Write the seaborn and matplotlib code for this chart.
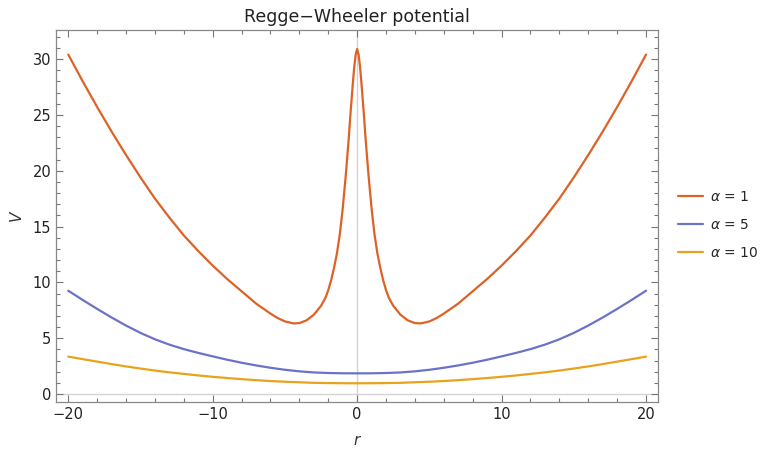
import pandas as pd
import numpy as np
import matplotlib
matplotlib.use("Agg")
import matplotlib.pyplot as plt
from matplotlib.ticker import MultipleLocator
import seaborn as sns

# values
r_a1 = [-20, -19, -18, -17, -16, -15, -14, -13, -12, -11, -10, -9, -8, -7, -6, -5.5, -5, -4.4, -4, -3.5,
        -3, -2.5, -2.2, -2.0, -1.8, -1.6, -1.4, -1.2, -1.0, -0.8, -0.6, -0.45, -0.3, -0.2, -0.1, 0,
        0.1, 0.2, 0.3, 0.45, 0.6, 0.8, 1.0, 1.2, 1.4, 1.6, 1.8, 2.0, 2.2, 2.5,
        3, 3.5, 4, 4.4, 5, 5.5, 6, 7, 8, 9, 10, 11, 12, 13, 14, 15, 16, 17, 18, 19, 20]
v_a1 = [30.4, 28.0, 25.7, 23.5, 21.4, 19.4, 17.5, 15.8, 14.2, 12.8, 11.5, 10.3, 9.2, 8.1, 7.2, 6.8, 6.5, 6.32, 6.35, 6.6,
        7.1, 7.9, 8.6, 9.3, 10.2, 11.3, 12.6, 14.3, 16.6, 19.4, 22.6, 25.3, 27.8, 29.3, 30.4, 30.9,
        30.4, 29.3, 27.8, 25.3, 22.6, 19.4, 16.6, 14.3, 12.6, 11.3, 10.2, 9.3, 8.6, 7.9,
        7.1, 6.6, 6.35, 6.32, 6.5, 6.8, 7.2, 8.1, 9.2, 10.3, 11.5, 12.8, 14.2, 15.8, 17.5, 19.4, 21.4, 23.5, 25.7, 28.0, 30.4]

r_a5 = [-20, -19, -18, -17, -16, -15, -14, -13, -12, -11, -10, -9, -8, -7, -6, -5, -4, -3, -2, -1, 0,
        1, 2, 3, 4, 5, 6, 7, 8, 9, 10, 11, 12, 13, 14, 15, 16, 17, 18, 19, 20]
v_a5 = [9.25, 8.42, 7.62, 6.85, 6.13, 5.47, 4.9, 4.42, 4.02, 3.68, 3.37, 3.07, 2.8, 2.56, 2.35, 2.17, 2.03, 1.93, 1.88, 1.855, 1.85,
        1.855, 1.88, 1.93, 2.03, 2.17, 2.35, 2.56, 2.8, 3.07, 3.37, 3.68, 4.02, 4.42, 4.9, 5.47, 6.13, 6.85, 7.62, 8.42, 9.25]

r_a10 = [-20, -19, -18, -17, -16, -15, -14, -13, -12, -11, -10, -9, -8, -7, -6, -5, -4, -3, -2, -1, 0,
         1, 2, 3, 4, 5, 6, 7, 8, 9, 10, 11, 12, 13, 14, 15, 16, 17, 18, 19, 20]
v_a10 = [3.35, 3.12, 2.9, 2.68, 2.47, 2.28, 2.1, 1.94, 1.8, 1.66, 1.54, 1.43, 1.33, 1.24, 1.16, 1.1, 1.05, 1.0, 0.98, 0.965, 0.96,
         0.965, 0.98, 1.0, 1.05, 1.1, 1.16, 1.24, 1.33, 1.43, 1.54, 1.66, 1.8, 1.94, 2.1, 2.28, 2.47, 2.68, 2.9, 3.12, 3.35]

labels = [r"$\alpha$ = 1", r"$\alpha$ = 5", r"$\alpha$ = 10"]
colors = ["#DD6226", "#6B72C8", "#E9A21E"]

df = pd.concat([
    pd.DataFrame({"r": r_a1, "V": v_a1, "series": labels[0]}),
    pd.DataFrame({"r": r_a5, "V": v_a5, "series": labels[1]}),
    pd.DataFrame({"r": r_a10, "V": v_a10, "series": labels[2]}),
])

sns.set_style("ticks")
plt.rcParams["font.family"] = ["DejaVu Sans"]

fig = plt.figure(figsize=(7.63, 4.51), dpi=100)
ax = fig.add_axes([0.0734, 0.1093, 0.7890, 0.8242])

# axis lines through the origin
ax.axvline(0, color="#D4D4D4", lw=1, zorder=0)
ax.axhline(0, color="#D4D4D4", lw=1, zorder=0)

sns.lineplot(data=df, x="r", y="V", hue="series", palette=colors, estimator=None,
             sort=False, lw=1.6, ax=ax)

ax.set_xlim(-20.85, 20.83)
ax.set_ylim(-0.69, 32.6)
ax.xaxis.set_major_locator(MultipleLocator(10))
ax.xaxis.set_minor_locator(MultipleLocator(2))
ax.yaxis.set_major_locator(MultipleLocator(5))
ax.yaxis.set_minor_locator(MultipleLocator(1))
ax.tick_params(which="both", direction="in", top=True, right=True, color="#777777",
               labelsize=10.5, labelcolor="#222222", width=0.8)
ax.tick_params(which="major", length=5)
ax.tick_params(which="minor", length=3)
ax.set_xticklabels([f"{t:g}".replace("-", "\u2212") for t in ax.get_xticks()])
for s in ax.spines.values():
    s.set_color("#888888")
    s.set_linewidth(0.9)

ax.set_xlabel("r", fontsize=11, style="italic", color="#333333", labelpad=8)
ax.set_ylabel("V", fontsize=11, style="italic", color="#333333", labelpad=6)
ax.set_title("Regge\u2212Wheeler potential", fontsize=12.5, color="#222222", pad=6)

leg = ax.legend(loc="center left", bbox_to_anchor=(1.012, 0.475), frameon=False,
                fontsize=10, handlelength=1.8, handletextpad=0.5, labelspacing=1.0,
                borderpad=0.4, title=None)

fig.savefig("out.png", dpi=100)
